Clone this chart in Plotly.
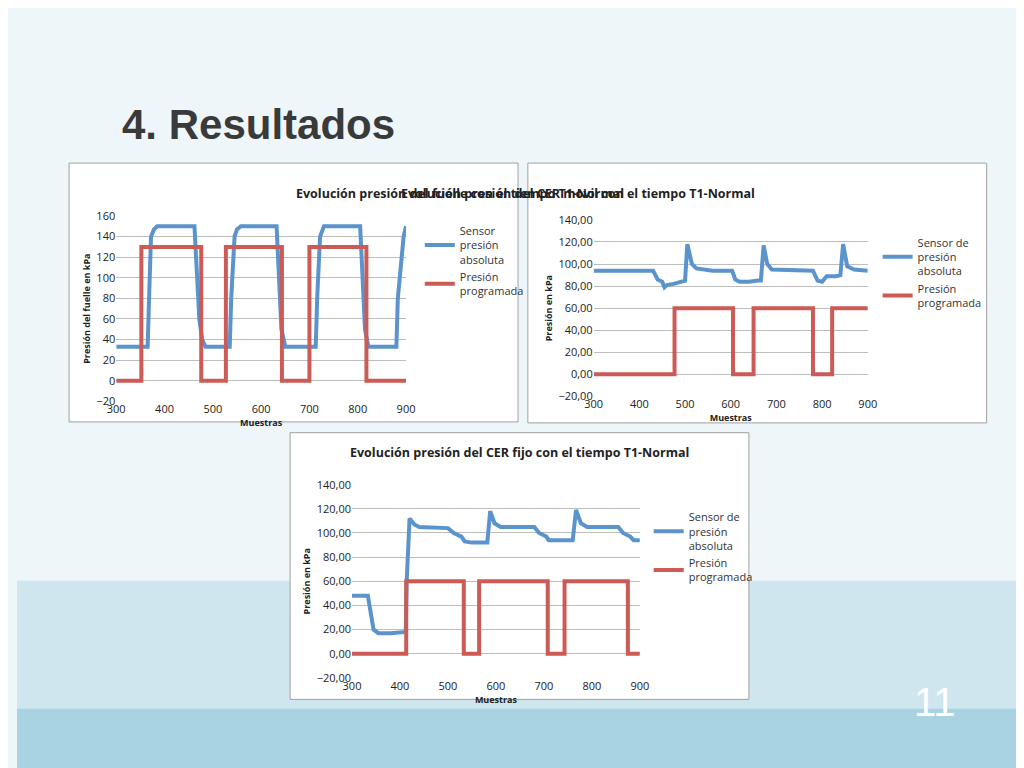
import plotly.graph_objects as go

# ---------------------------------------------------------------------------
# Data
# ---------------------------------------------------------------------------

# Chart 1 – fuelle
fuelle_prog_x = [300, 352, 352, 476, 476, 527, 527, 643, 643, 700, 700, 818, 818, 900]
fuelle_prog_y = [0, 0, 130, 130, 0, 0, 130, 130, 0, 0, 130, 130, 0, 0]
fuelle_sens_x = [300, 365, 368, 372, 378, 385, 462, 466, 472, 478, 485, 535, 538, 545, 550, 558,
                 632, 636, 642, 650, 713, 716, 722, 730, 805, 809, 815, 822, 880, 883, 890, 895, 900]
fuelle_sens_y = [33, 33, 80, 140, 147, 150, 150, 120, 60, 40, 33, 33, 80, 140, 147, 150,
                 150, 110, 50, 33, 33, 80, 140, 150, 150, 110, 50, 33, 33, 80, 120, 140, 150]

# Chart 2 – CER movil
movil_prog_x = [300, 477, 477, 605, 605, 650, 650, 780, 780, 822, 822, 900]
movil_prog_y = [0, 0, 60, 60, 0, 0, 60, 60, 0, 0, 60, 60]
movil_sens_x = [300, 430, 440, 450, 455, 460, 475, 490, 500, 505, 515, 525, 560, 603, 610, 620,
                640, 660, 666, 672, 680, 690, 780, 790, 800, 810, 830, 840, 846, 855, 870, 900]
movil_sens_y = [94, 94, 86, 84, 79, 81, 82, 84, 85, 118, 100, 96, 94, 94, 86, 84,
                84, 85, 85, 117, 100, 95, 94, 85, 84, 89, 89, 90, 118, 98, 95, 94]

# Chart 3 – CER fijo
fijo_prog_x = [300, 413, 413, 533, 533, 565, 565, 708, 708, 743, 743, 875, 875, 900]
fijo_prog_y = [0, 0, 60, 60, 0, 0, 60, 60, 0, 0, 60, 60, 0, 0]
fijo_sens_x = [300, 333, 345, 355, 380, 400, 412, 414, 420, 430, 440, 500, 512, 528, 535, 550,
               582, 588, 597, 610, 680, 690, 705, 710, 760, 767, 777, 790, 855, 865, 880, 887, 900]
fijo_sens_y = [48, 48, 20, 17, 17, 18, 18, 60, 112, 107, 105, 104, 100, 97, 93, 92,
               92, 118, 108, 105, 105, 100, 97, 94, 94, 119, 108, 105, 105, 100, 97, 94, 94]

BLUE = "#5b93cc"
RED = "#cc5a55"
FONT = "Open Sans"

W, H = 1024, 768


def fx(px):
    return px / W


def fy(py):
    return 1 - py / H


charts = [
    dict(title="Evolución presión del fuelle con el tiempo T1-Normal",
         ytitle="Presión del fuelle en kPa", sens="Sensor<br>presión<br>absoluta",
         sx=fuelle_sens_x, sy=fuelle_sens_y, px_=fuelle_prog_x, py_=fuelle_prog_y,
         box=(53, 150, 510, 414), plot=(101, 204, 396, 393),
         yr=[-20, 160], fmt="d", leg=(410, 205), leg2=(410, 290)),
    dict(title="Evolución presión del CER movil con el tiempo T1-Normal",
         ytitle="Presión en kPa", sens="Sensor de<br>presión<br>absoluta",
         sx=movil_sens_x, sy=movil_sens_y, px_=movil_prog_x, py_=movil_prog_y,
         box=(520, 150, 987, 415), plot=(587, 208, 866, 388),
         yr=[-20, 140], fmt=".2f", leg=(876, 217), leg2=(876, 290)),
    dict(title="Evolución presión del CER fijo con el tiempo T1-Normal",
         ytitle="Presión en kPa", sens="Sensor de<br>presión<br>absoluta",
         sx=fijo_sens_x, sy=fijo_sens_y, px_=fijo_prog_x, py_=fijo_prog_y,
         box=(278, 425, 745, 697), plot=(341, 478, 634, 675),
         yr=[-20, 140], fmt=".2f", leg=(643, 497), leg2=(643, 580)),
]

fig = go.Figure()
shapes = []
annotations = []

# slide background bands
shapes.append(dict(type="rect", xref="paper", yref="paper", x0=0, x1=1, y0=0, y1=0.25,
                   fillcolor="#cfe6ef", line_width=0, layer="below"))
shapes.append(dict(type="rect", xref="paper", yref="paper", x0=0, x1=1, y0=0, y1=0.08,
                   fillcolor="#a9d3e2", line_width=0, layer="below"))

for i, c in enumerate(charts, start=1):
    xa = "x" if i == 1 else f"x{i}"
    ya = "y" if i == 1 else f"y{i}"
    lg = "legend" if i == 1 else f"legend{i}"
    fig.add_trace(go.Scatter(x=c["sx"], y=c["sy"], mode="lines", name=c["sens"],
                             line=dict(color=BLUE, width=4), xaxis=xa, yaxis=ya, legend=lg))
    fig.add_trace(go.Scatter(x=c["px_"], y=c["py_"], mode="lines", name="Presión<br>programada",
                             line=dict(color=RED, width=4), xaxis=xa, yaxis=ya, legend=lg))

    x0, y0, x1, y1 = c["plot"]
    bx0, by0, bx1, by1 = c["box"]
    shapes.append(dict(type="rect", xref="paper", yref="paper",
                       x0=fx(bx0), x1=fx(bx1), y0=fy(by1), y1=fy(by0),
                       fillcolor="white", line=dict(color="#a0a0a0", width=1), layer="below"))
    annotations.append(dict(text=f"<b>{c['title']}</b>", xref="paper", yref="paper",
                            x=fx((bx0 + bx1) / 2), y=fy(by0 + 20), showarrow=False,
                            font=dict(size=12.5, family=FONT, color="#222")))
    suffix = "" if i == 1 else str(i)
    fig.layout["xaxis" + suffix] = dict(
        domain=[fx(x0), fx(x1)], anchor=ya, range=[300, 900], dtick=100,
        showgrid=False, showline=False, zeroline=False,
        tickfont=dict(size=11, family=FONT, color="#222"),
        title=dict(text="<b>Muestras</b>", font=dict(size=9, family=FONT, color="#222"),
                   standoff=4))
    fig.layout["yaxis" + suffix] = dict(
        domain=[fy(y1), fy(y0)], anchor=xa, range=c["yr"], dtick=20,
        tickformat=c["fmt"],
        showgrid=True, gridcolor="#bdbdbd", zeroline=False, showline=False,
        tickfont=dict(size=11, family=FONT, color="#222"),
        title=dict(text=f"<b>{c['ytitle']}</b>", font=dict(size=9, family=FONT, color="#222"),
                   standoff=4))
    fig.layout[lg] = dict(x=fx(c["leg"][0]), y=fy(c["leg"][1]), xanchor="left", yanchor="top",
                          bgcolor="rgba(0,0,0,0)", tracegroupgap=18, itemwidth=30,
                          font=dict(size=11, family=FONT, color="#333"))

annotations.append(dict(text="<b>4. Resultados</b>", xref="paper", yref="paper",
                        x=fx(105), y=fy(85), xanchor="left", showarrow=False,
                        font=dict(size=42, family="Liberation Sans", color="#3a3a3a")))
annotations.append(dict(text="11", xref="paper", yref="paper", x=fx(958), y=fy(724),
                        showarrow=False, font=dict(size=40, family="Liberation Sans", color="white")))

fig.update_layout(
    width=W, height=H, margin=dict(l=0, r=0, t=0, b=0),
    paper_bgcolor="#eef6fa", plot_bgcolor="white",
    separators=",.", showlegend=True,
    shapes=shapes, annotations=annotations,
)

fig.write_html("out.html")
